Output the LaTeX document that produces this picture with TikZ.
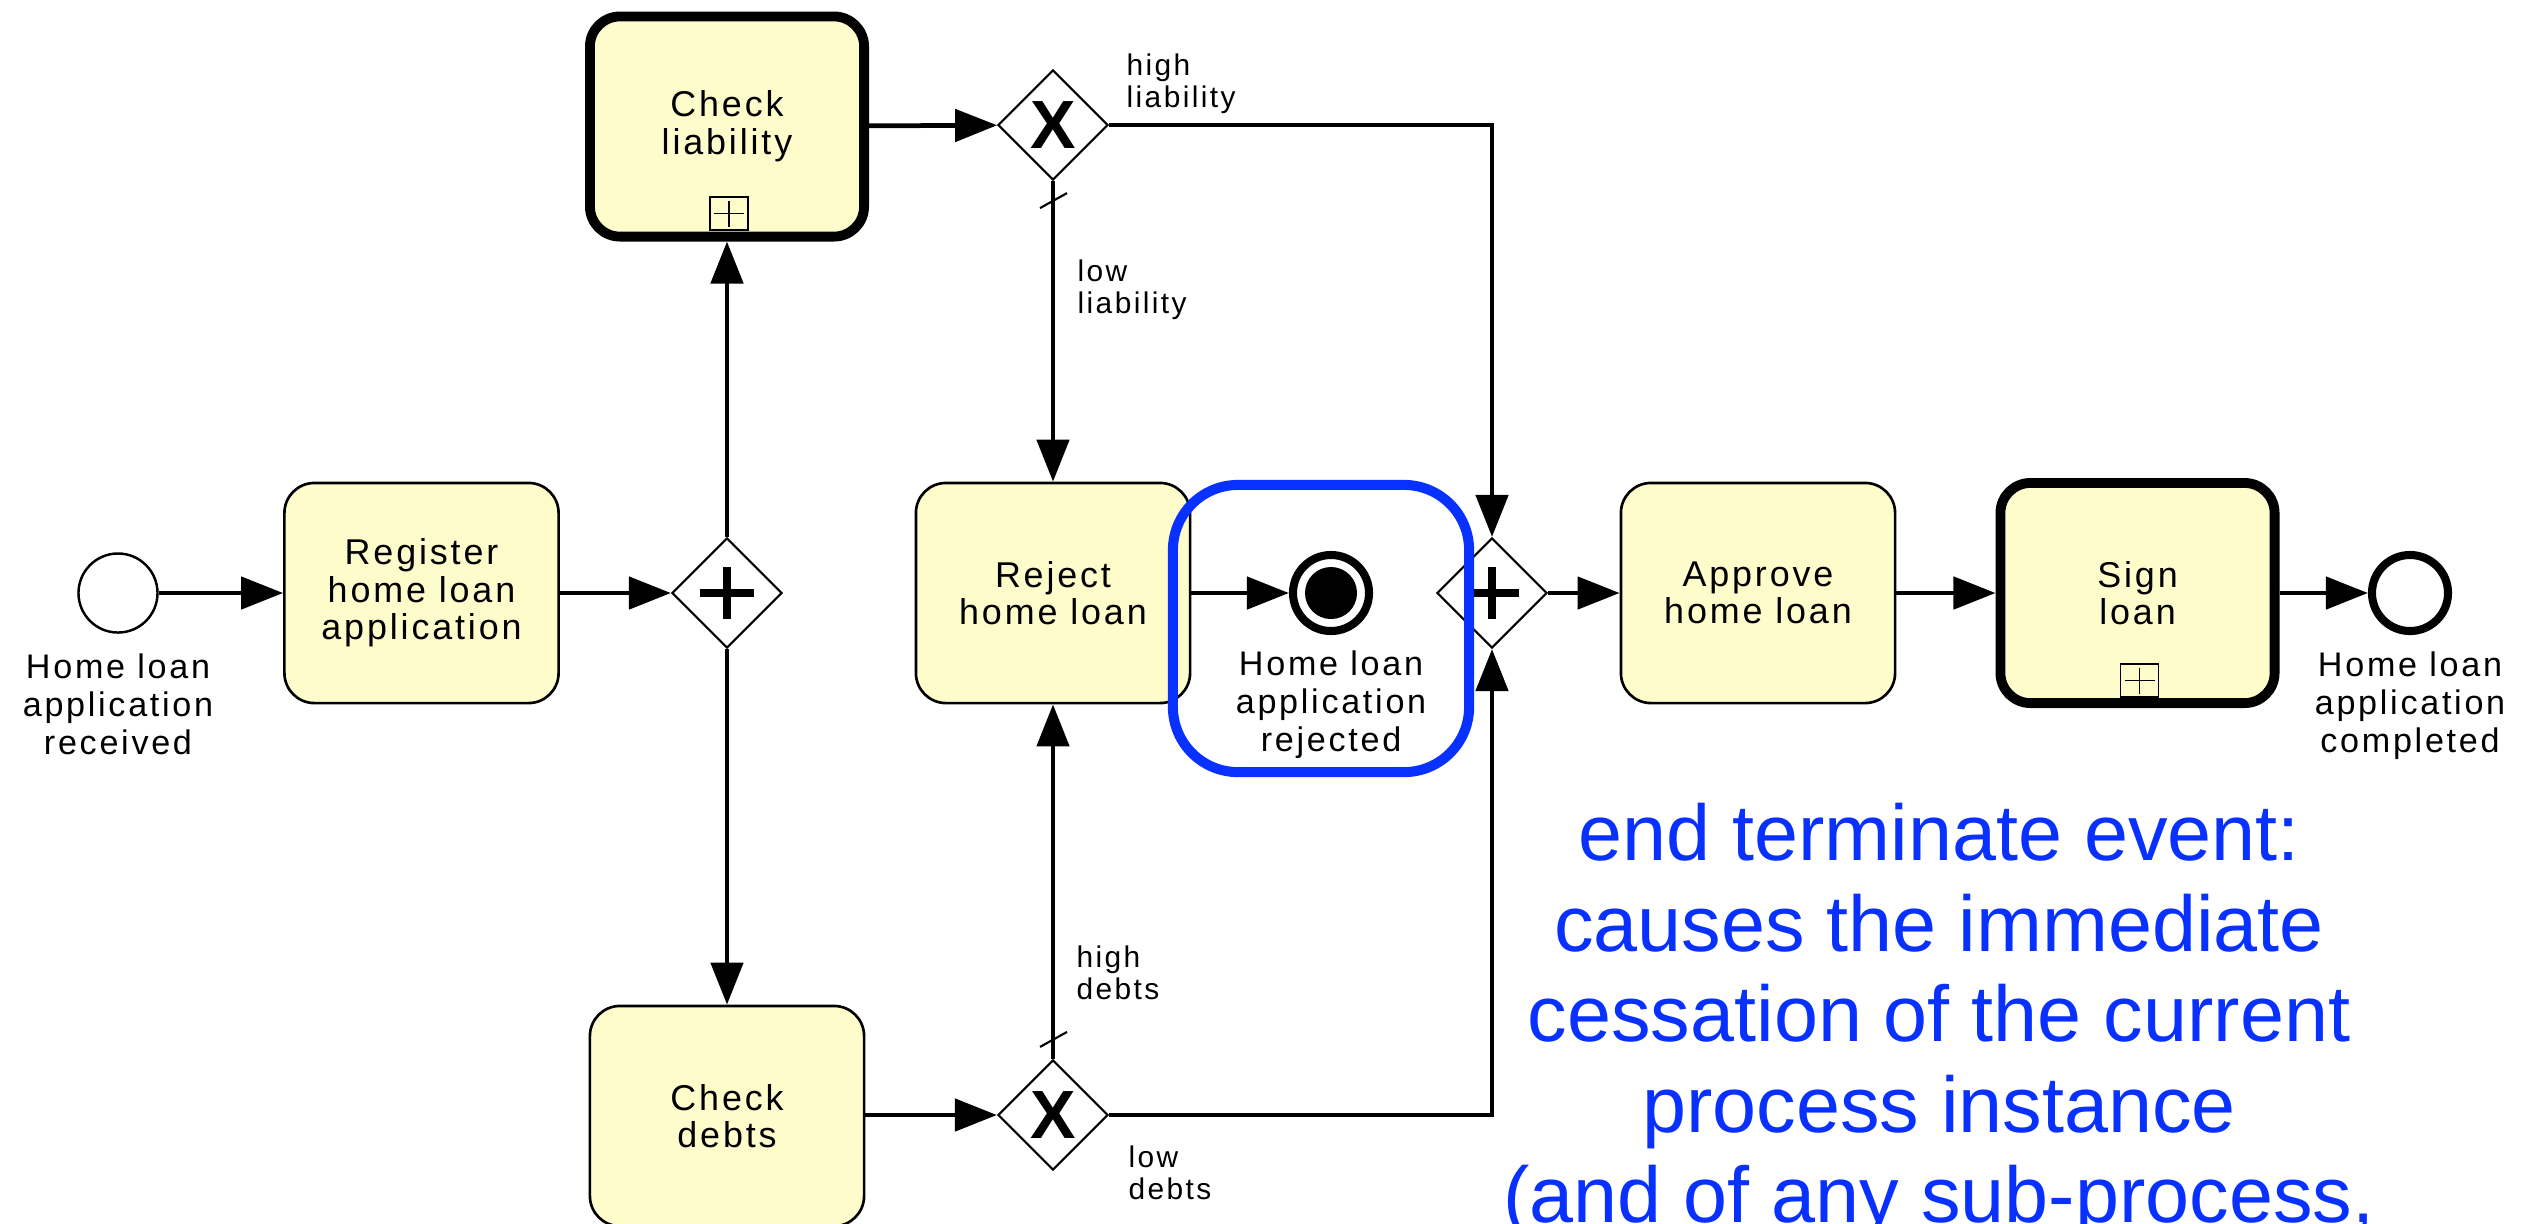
\documentclass[tikz,border=0pt]{standalone}
\usepackage{fontspec}
\setmainfont{Liberation Sans}
\newfontfamily\lsfont[LetterSpace=8]{Liberation Sans}
\newfontfamily\bluefont{Liberation Sans}
\usetikzlibrary{arrows.meta,shapes.geometric,calc}
\definecolor{taskfill}{RGB}{255,252,204}
\definecolor{hlblue}{RGB}{8,48,255}
\begin{document}
\begin{tikzpicture}[x=0.01cm,y=-0.01cm,
  task/.style={draw, fill=taskfill, line width=0.75pt, rounded corners=0.3cm,
    minimum width=2.74cm, minimum height=2.2cm, inner sep=0pt, align=center,
    font=\lsfont\fontsize{10.2}{10.7}\selectfont},
  subtask/.style={task, line width=2.8pt},
  gw/.style={draw, diamond, aspect=1, minimum width=1.1cm, minimum height=1.1cm,
    inner sep=0pt, line width=0.6pt, fill=white},
  startev/.style={draw, circle, minimum size=0.79cm, inner sep=0pt, line width=0.7pt, fill=white},
  endev/.style={draw, circle, minimum size=0.76cm, inner sep=0pt, line width=2.3pt, fill=white},
  evlabel/.style={align=center, inner sep=0pt, anchor=north,
    font=\lsfont\fontsize{9.7}{10.8}\selectfont},
  gwlabel/.style={align=left, inner sep=0pt, anchor=north west,
    font=\lsfont\fontsize{8.5}{9}\selectfont},
  flow/.style={line width=1.35pt, -{Triangle[length=0.42cm,width=0.32cm]}},
  xmark/.style={inner sep=0pt, font=\bluefont\bfseries\fontsize{19.4}{20}\selectfont},
  plusmark/.style={line width=2.3pt},
  tickline/.style={line width=0.6pt},
  submark/.style={draw, line width=0.5pt, fill=taskfill, minimum width=0.38cm, minimum height=0.33cm, inner sep=0pt},
  bluetext/.style={anchor=base, inner sep=0pt, text=hlblue, font=\bluefont\fontsize{22.5}{26}\selectfont}
]
\useasboundingbox (0,0) rectangle (2542,1223);
\fill[white] (0,0) rectangle (2542,1223);

% events
\node[startev] (start) at (118,593) {};
\node[evlabel] (startl) at (118,653) {Home loan\\application\\received};

% tasks
\node[task] (reg) at (421.5,593) {Register\\home loan\\application};
\node[subtask] (chl) at (727,126.5) {Check\\liability};
\node[task] (chd) at (727,1116) {Check\\debts};
\node[task] (rej) at (1053,593) {Reject\\home loan};
\node[task] (app) at (1758,593) {Approve\\home loan};
\node[subtask] (sign) at (2137.5,593) {Sign\\loan};

% sub-process markers
\node[submark] (chlm) at ($(chl.center)+(2,87)$) {};
\draw[line width=0.5pt] ($(chlm.center)+(-15,0)$) -- ($(chlm.center)+(15,0)$)
  ($(chlm.center)+(0,-13)$) -- ($(chlm.center)+(0,13)$);
\node[submark] (signm) at ($(sign.center)+(2,87.5)$) {};
\draw[line width=0.5pt] ($(signm.center)+(-15,0)$) -- ($(signm.center)+(15,0)$)
  ($(signm.center)+(0,-13)$) -- ($(signm.center)+(0,13)$);

% gateways
\node[gw] (pg1) at (727,593) {};
\draw[plusmark] ($(pg1.center)+(-27,0)$) -- ($(pg1.center)+(27,0)$)
  ($(pg1.center)+(0,-26)$) -- ($(pg1.center)+(0,26)$);
\node[gw] (x1) at (1053,125) {};
\node[xmark] (x1m) at (x1.center) {X};
\node[gw] (x2) at (1053,1115) {};
\node[xmark] (x2m) at (x2.center) {X};
\node[gw] (pg2) at (1492,593) {};
\draw[plusmark] ($(pg2.center)+(-27,0)$) -- ($(pg2.center)+(27,0)$)
  ($(pg2.center)+(0,-26)$) -- ($(pg2.center)+(0,26)$);

% end events
\node[endev] (term) at (1331,593) {};
\fill (term.center) circle (0.26cm);
\node[evlabel] (terml) at (1331,650) {Home loan\\application\\rejected};
\node[endev] (endc) at (2410,593) {};
\node[evlabel] (endl) at (2410,651) {Home loan\\application\\completed};

% gateway labels
\node[gwlabel] (lhl) at (1126,53) {high\\liability};
\node[gwlabel] (lll) at (1077,259) {low\\liability};
\node[gwlabel] (lhd) at (1076,945) {high\\debts};
\node[gwlabel] (lld) at (1128,1145) {low\\debts};

% flows
\draw[flow] (start) -- (reg);
\draw[flow] (reg) -- (pg1);
\draw[flow] (pg1.north) -- (chl.south);
\draw[flow] (pg1.south) -- (chd.north);
\draw[flow] (chl) -- (x1);
\draw[flow] (chd.east |- x2.west) -- (x2.west);
\draw[flow] (x1.east) -| (pg2.north);
\draw[flow] (x1.south) -- (rej.north);
\draw[flow] (x2.north) -- (rej.south);
\draw[flow] (x2.east) -| (pg2.south);
\draw[flow] (rej) -- (term);
\draw[flow] (pg2) -- (app);
\draw[flow] (app) -- (sign);
\draw[flow] (sign) -- (endc);

% default-flow ticks
\draw[tickline] ($(x1.south)+(-13,27)$) -- ++(27,-15);
\draw[tickline] ($(x2.north)+(-13,-12)$) -- ++(27,-15);

% highlight
\node[draw=hlblue, line width=2.85pt, rounded corners=0.65cm, minimum width=2.96cm,
  minimum height=2.87cm, inner sep=0pt] (hl) at (1321,628.5) {};

% annotation text
\node[bluetext] (b1) at (1939,860) {end terminate event:};
\node[bluetext] (b2) at (1939,951) {causes the immediate};
\node[bluetext] (b3) at (1939,1041) {cessation of the current};
\node[bluetext] (b4) at (1939,1132) {process instance};
\node[bluetext] (b5) at (1939,1222) {(and of any sub-process,};
\end{tikzpicture}
\end{document}
